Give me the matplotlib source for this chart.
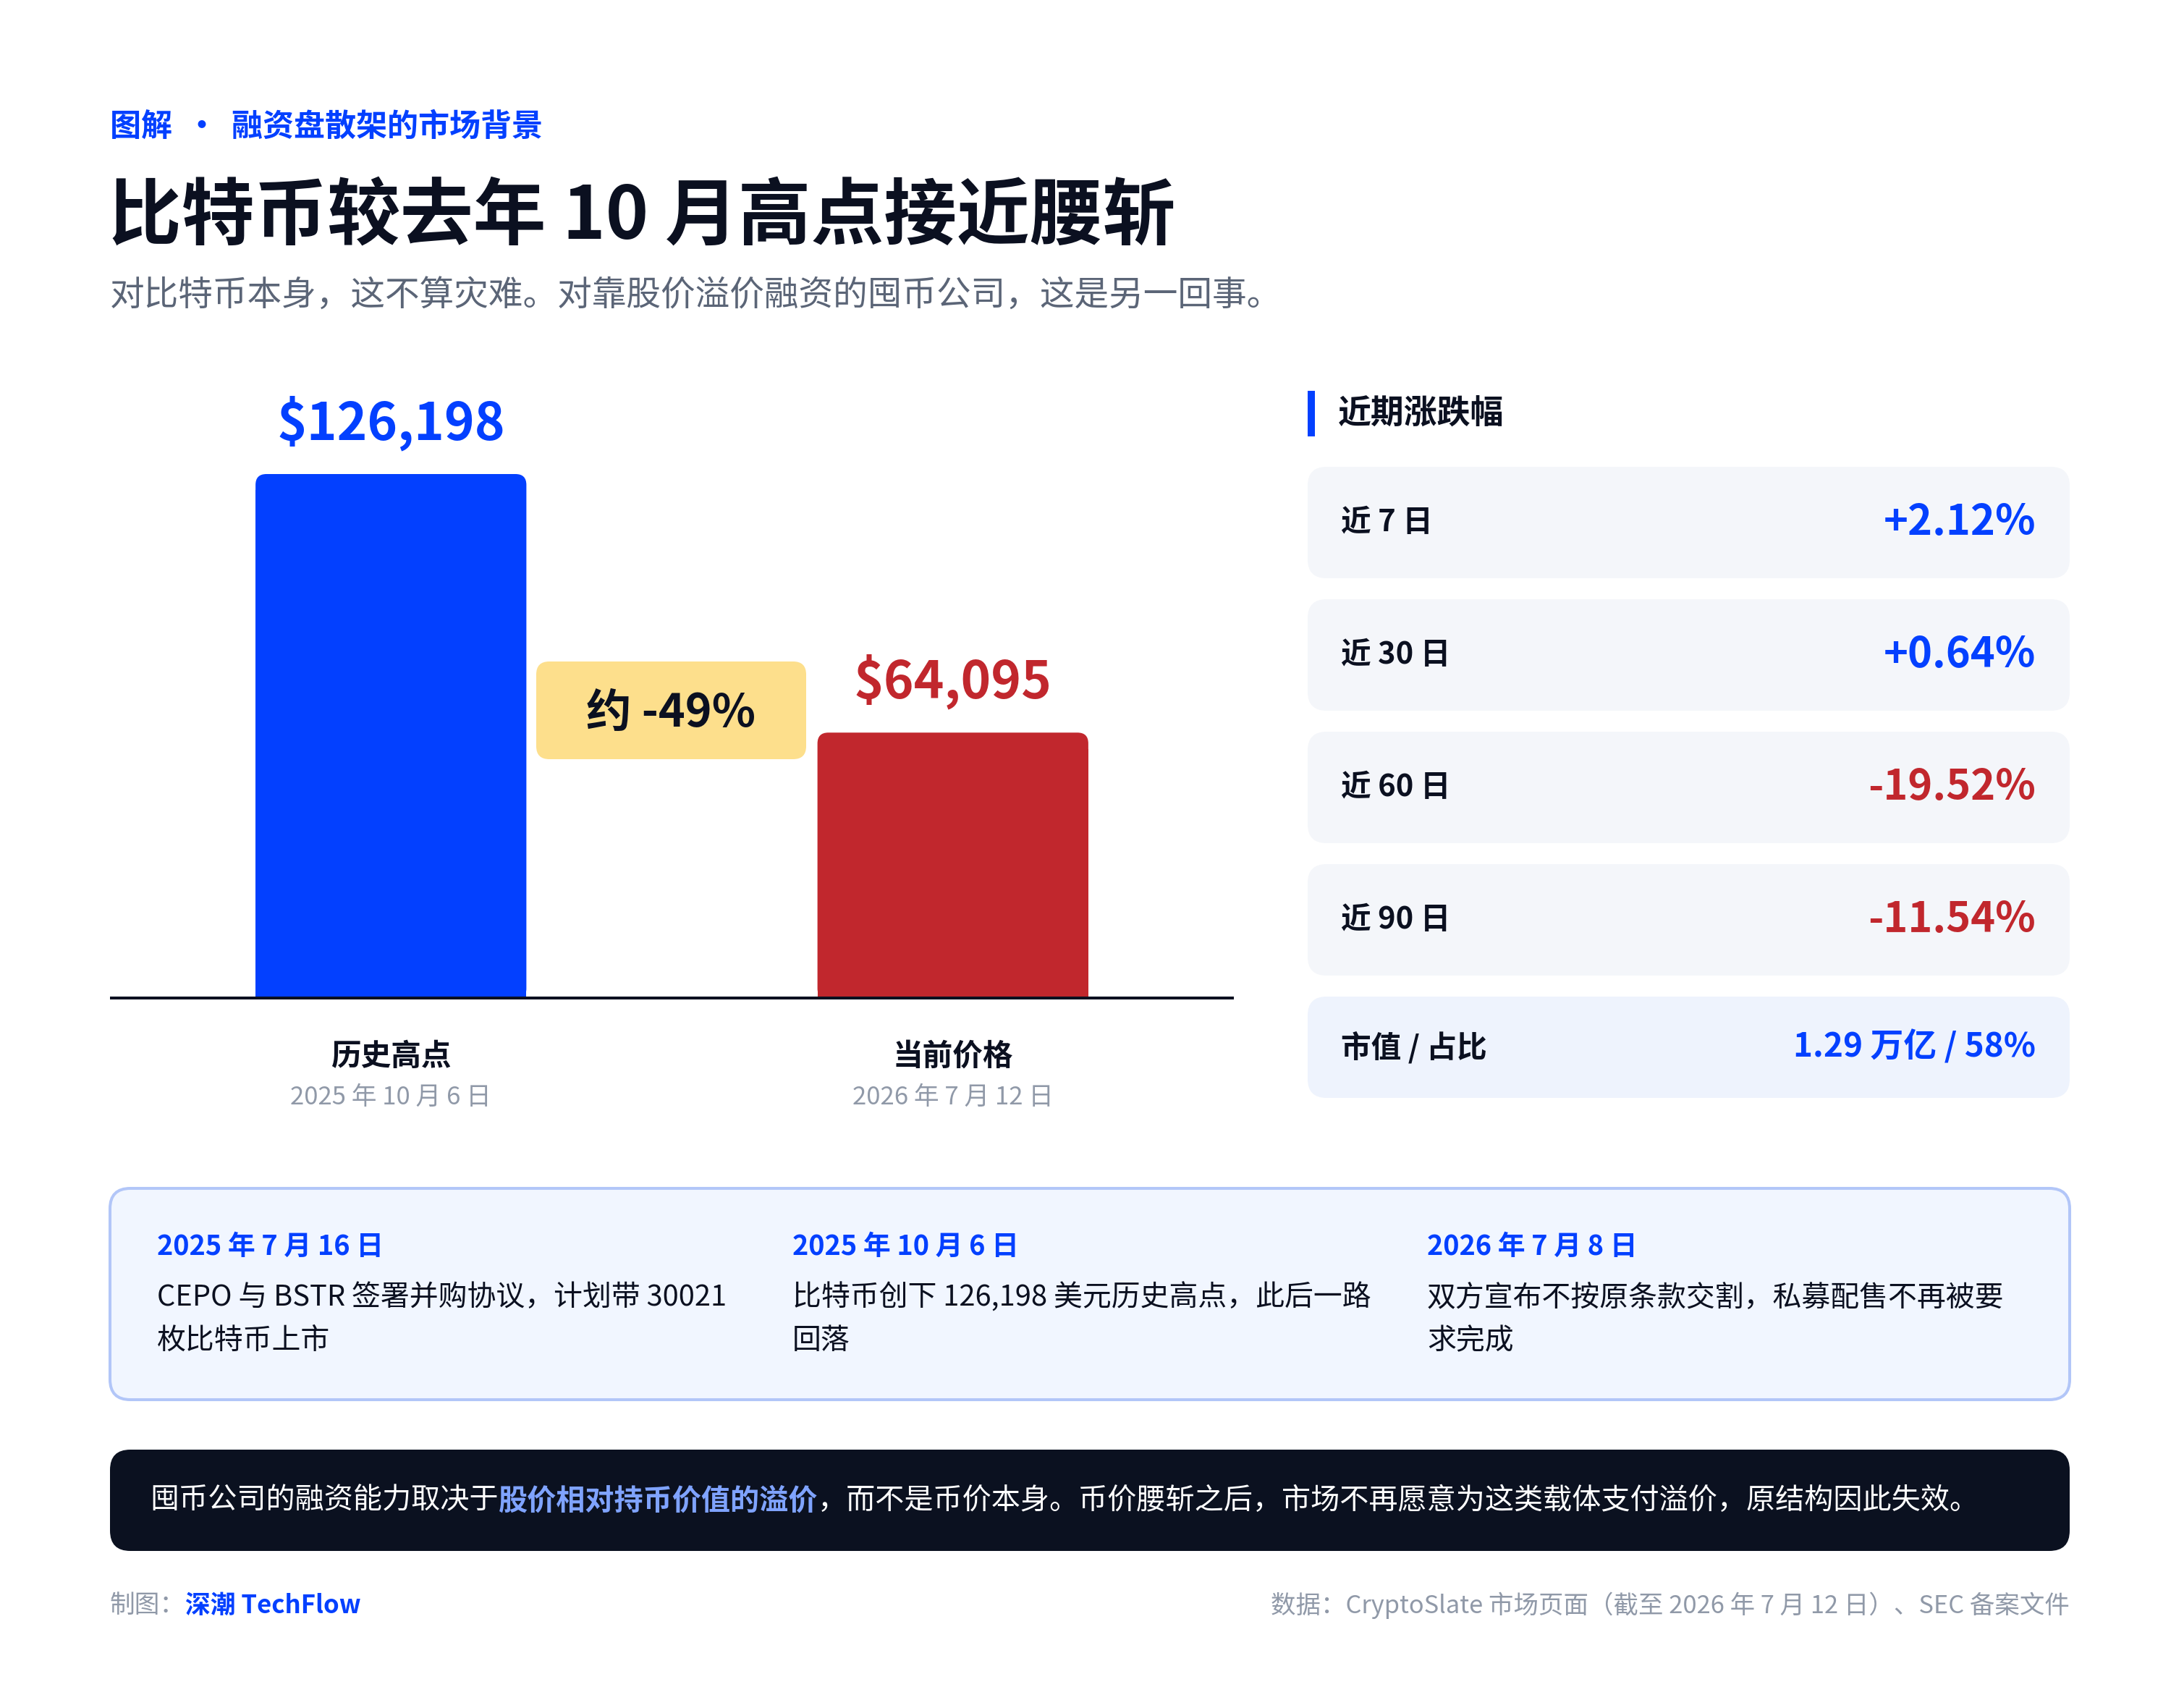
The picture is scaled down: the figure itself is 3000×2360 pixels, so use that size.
import matplotlib
matplotlib.use("Agg")
import matplotlib.pyplot as plt
from matplotlib.patches import FancyBboxPatch, Rectangle

plt.rcParams['font.family'] = ['Noto Sans CJK SC', 'DejaVu Sans']

# ---- data ----
categories = ["历史高点", "当前价格"]
dates = ["2025 年 10 月 6 日", "2026 年 7 月 12 日"]
prices = [126198, 64095]
price_labels = ["$126,198", "$64,095"]
change_label = "约 -49%"

period_names = ["近 7 日", "近 30 日", "近 60 日", "近 90 日"]
period_changes = [2.12, 0.64, -19.52, -11.54]
cap_name = "市值 / 占比"
cap_value = "1.29 万亿 / 58%"

timeline_dates = ["2025 年 7 月 16 日", "2025 年 10 月 6 日", "2026 年 7 月 8 日"]
timeline_text = [
    ["CEPO 与 BSTR 签署并购协议，计划带 30021", "枚比特币上市"],
    ["比特币创下 126,198 美元历史高点，此后一路", "回落"],
    ["双方宣布不按原条款交割，私募配售不再被要", "求完成"],
]

BLUE = "#0340FF"
RED = "#C1272D"
DARK = "#0B1020"
GRAY = "#5B6577"
LGRAY = "#9099A8"

W, H = 3000, 2360
fig = plt.figure(figsize=(W / 100, H / 100), dpi=100)
fig.patch.set_facecolor("white")

# full-figure canvas in pixel units for layout
cv = fig.add_axes([0, 0, 1, 1], zorder=0)
cv.set_xlim(0, W)
cv.set_ylim(H, 0)
cv.axis("off")


def rbox(x, y, w, h, r, fc, ec="none", lw=0, z=1):
    p = FancyBboxPatch((x, y), w, h, boxstyle=f"round,pad=0,rounding_size={r}",
                       fc=fc, ec=ec, lw=lw, zorder=z)
    cv.add_patch(p)
    return p


# ---- header ----
cv.text(152, 175, "图解  ·  融资盘散架的市场背景", color=BLUE, fontsize=31,
        fontweight="bold", va="center", ha="left")
cv.text(150, 300, "比特币较去年 10 月高点接近腰斩", color=DARK, fontsize=72.5,
        fontweight="black", va="center", ha="left")
cv.text(152, 409, "对比特币本身，这不算灾难。对靠股价溢价融资的囤币公司，这是另一回事。",
        color=GRAY, fontsize=34.3, va="center", ha="left")

# ---- bar chart ----
ymax = 150000
ax_left, ax_right = 152, 1705
ax_bottom = 1381
ax_h = 726 * ymax / prices[0]
ax = fig.add_axes([ax_left / W, (H - ax_bottom) / H, (ax_right - ax_left) / W, ax_h / H], zorder=2)
ax.patch.set_alpha(0)
ax.set_xlim(-0.5, 1.5)
ax.set_ylim(0, ymax)
for s in ax.spines.values():
    s.set_visible(False)
ax.set_xticks([])
ax.set_yticks([])

xpos = [0, 1]
bw = 0.482
colors = [BLUE, RED]
bars = ax.bar(xpos, prices, width=bw, color=colors, zorder=3)

# rounded tops
px_per_x = (ax_right - ax_left) / 2.0
y_per_px = ymax / ax_h
r_px = 15
aspect = y_per_px * px_per_x
for b, c in zip(bars, colors):
    x0, w, h = b.get_x(), b.get_width(), b.get_height()
    b.set_height(h - r_px * y_per_px * 1.5)
    ax.add_patch(FancyBboxPatch((x0, 0), w, h,
                                boxstyle=f"round,pad=0,rounding_size={r_px / px_per_x}",
                                mutation_aspect=aspect, fc=c, ec="none", zorder=3))

ax.axhline(0, color=DARK, lw=5.8, zorder=4)

for x, v, lab, c in zip(xpos, prices, price_labels, colors):
    ax.annotate(lab, (x, v), xytext=(0, 23), textcoords="offset points",
                ha="center", va="bottom", color=c, fontsize=51, fontweight="bold")

# change badge between bars
rbox(927.5 - 186.5, 914, 373, 135, 18, "#FDDF8C", z=3)
cv.text(927.5, 985, change_label, color=DARK, fontsize=45, fontweight="bold",
        ha="center", va="center", zorder=4)

for x, cat, d in zip(xpos, categories, dates):
    cx = ax_left + (x + 0.5) * px_per_x
    cv.text(cx, 1460, cat, color=DARK, fontsize=30, fontweight="bold", ha="center", va="center")
    cv.text(cx, 1516, d, color=LGRAY, fontsize=25, ha="center", va="center")

# ---- right panel ----
cv.add_patch(Rectangle((1807, 540), 10, 63, fc=BLUE, ec="none"))
cv.text(1849, 572, "近期涨跌幅", color=DARK, fontsize=33, fontweight="bold", va="center")

card_x, card_w = 1807, 1053
card_top = 645
pitch = 183
card_h = 154
for i, (name, chg) in enumerate(zip(period_names, period_changes)):
    top = card_top + i * pitch
    rbox(card_x, top, card_w, card_h, 26, "#F4F6FA")
    cy = top + card_h / 2
    cv.text(1853, cy, name, color=DARK, fontsize=30, fontweight="bold", va="center")
    cv.text(2813, cy, f"{chg:+.2f}%", color=BLUE if chg >= 0 else RED,
            fontsize=41.5, fontweight="bold", va="center", ha="right")

top5 = card_top + 4 * pitch
rbox(card_x, top5, card_w, 140, 26, "#EEF3FD")
cv.text(1853, top5 + 70, cap_name, color=DARK, fontsize=30, fontweight="bold", va="center")
cv.text(2813, top5 + 70, cap_value, color=BLUE, fontsize=33, fontweight="bold",
        va="center", ha="right")

# ---- timeline box ----
rbox(152, 1642, 2708, 292, 28, "#F1F6FF", ec="#B2C6F8", lw=2.9)
col_x = [217, 1095, 1972]
for x, d, lines in zip(col_x, timeline_dates, timeline_text):
    cv.text(x, 1722, d, color=BLUE, fontsize=27.3, fontweight="bold", va="center")
    for j, line in enumerate(lines):
        cv.text(x, 1793 + j * 60, line, color=DARK, fontsize=28.7, va="center")

# ---- dark takeaway bar ----
rbox(152, 2003, 2708, 140, 28, "#0B1120")
parts = [
    ("囤币公司的融资能力取决于", "white", "normal"),
    ("股价相对持币价值的溢价", "#7FA3FF", "bold"),
    ("，而不是币价本身。币价腰斩之后，市场不再愿意为这类载体支付溢价，原结构因此失效。", "white", "normal"),
]
prev = cv.text(207, 2074, parts[0][0], color=parts[0][1], fontweight=parts[0][2],
               fontsize=28.9, va="center", ha="left", zorder=3)
for txt, c, fw in parts[1:]:
    prev = cv.annotate(txt, xy=(1, 0.5), xycoords=prev, color=c, fontweight=fw,
                       fontsize=28.9, va="center", ha="left", zorder=3)

# ---- footer ----
f1 = cv.text(152, 2218, "制图：", color=LGRAY, fontsize=25, va="center", ha="left")
cv.annotate("深潮 TechFlow", xy=(1, 0.5), xycoords=f1, color=BLUE, fontsize=25,
            fontweight="bold", va="center", ha="left")
cv.text(2860, 2218, "数据：CryptoSlate 市场页面（截至 2026 年 7 月 12 日）、SEC 备案文件",
        color=LGRAY, fontsize=24.8, va="center", ha="right")

fig.savefig("out.png", dpi=100, facecolor="white")
